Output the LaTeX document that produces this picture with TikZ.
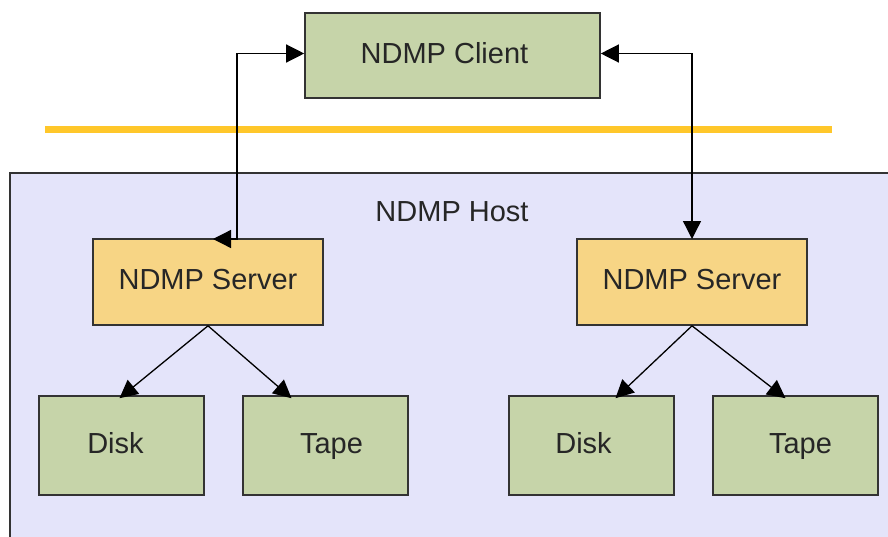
\documentclass[tikz,border=0pt]{standalone}
\usepackage{fontspec}
\setmainfont{Liberation Sans}
\usetikzlibrary{arrows.meta}
\definecolor{boxgreen}{HTML}{C6D4A9}
\definecolor{boxorange}{HTML}{F7D585}
\definecolor{hostfill}{HTML}{E4E4FA}
\definecolor{barcol}{HTML}{FFC72A}
\definecolor{edge}{HTML}{333333}
\begin{document}
\begin{tikzpicture}[x=1pt,y=-1pt,
  txt/.style={font=\fontsize{29}{32}\selectfont,text=black!85},
  box/.style={txt,draw=edge,line width=1.6pt,inner sep=0pt,text height=21pt,text depth=6pt},
  greenbox/.style={box,fill=boxgreen},
  serverbox/.style={box,fill=boxorange},
  conn/.style={draw=black,line width=1.3pt},
  tip/.style={-{Triangle[length=18pt,width=18pt]}},
  tipboth/.style={{Triangle[length=18pt,width=18pt]}-{Triangle[length=18pt,width=18pt]}}]
\useasboundingbox (0,0) rectangle (888,536);
% host area
\filldraw[fill=hostfill,draw=edge,line width=1.6pt] (10,173) rectangle (900,550);
\node[txt] (host) at (452,212) {NDMP Host};
% separator bar
\draw[barcol,line width=7pt] (45,129) -- (832,129);
% nodes
\node[greenbox,minimum width=295pt,minimum height=85pt] (client) at (452.5,55.5) {NDMP Client\hspace*{16pt}};
\node[serverbox,minimum width=230pt,minimum height=86pt] (ls) at (208,282) {NDMP Server};
\node[serverbox,minimum width=230pt,minimum height=86pt] (rs) at (692,282) {NDMP Server};
\node[greenbox,minimum width=165pt,minimum height=99pt] (ld) at (121.5,445.5) {Disk\hspace*{12pt}};
\node[greenbox,minimum width=165pt,minimum height=99pt] (lt) at (325.5,445.5) {\hspace*{12pt}Tape};
\node[greenbox,minimum width=165pt,minimum height=99pt] (rd) at (591.5,445.5) {Disk\hspace*{16pt}};
\node[greenbox,minimum width=165pt,minimum height=99pt] (rt) at (795.5,445.5) {\hspace*{10pt}Tape};
\coordinate (lsTop) at (237,239);
\coordinate (lsTip) at (213,239);
\coordinate (rsTop) at (692,239);
% client connectors
\draw[conn,tipboth] ([yshift=2pt]client.west) -| (lsTop) -- (lsTip);
\draw[conn,tipboth] ([yshift=2pt]client.east) -| (rsTop);
% server to storage
\draw[conn,tip] (ls.south) -- ([xshift=-2pt,yshift=-3pt]ld.north);
\draw[conn,tip] (ls.south) -- ([xshift=-34pt,yshift=-3pt]lt.north);
\draw[conn,tip] (rs.south) -- ([xshift=24pt,yshift=-3pt]rd.north);
\draw[conn,tip] (rs.south) -- ([xshift=-10pt,yshift=-3pt]rt.north);
\end{tikzpicture}
\end{document}
